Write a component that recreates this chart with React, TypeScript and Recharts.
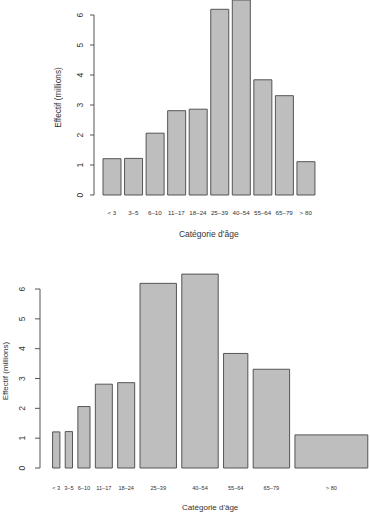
import { BarChart, Bar, XAxis, YAxis, ComposedChart, ReferenceArea, Line } from 'recharts';

const AGE_LABELS = ['< 3', '3–5', '6–10', '11–17', '18–24', '25–39', '40–54', '55–64', '65–79', '> 80'];
const EFFECTIFS = [1.21, 1.22, 2.06, 2.81, 2.86, 6.19, 6.5, 3.84, 3.31, 1.11];
// largeur des classes d'âge (années), sert de largeur de barre en bas
const AGE_SPANS = [3, 3, 5, 7, 7, 15, 15, 10, 15, 30];
const Y_TICKS = [0, 1, 2, 3, 4, 5, 6];

const FONT = '"Liberation Sans", Arial, Helvetica, sans-serif';
const INK = '#333';
const LINE = '#555';
const FILL = '#bebebe';

const topData = AGE_LABELS.map((age, i) => ({ age, effectif: EFFECTIFS[i] }));

// comme barplot(width = AGE_SPANS, space = 0.2) : écart = 0.2 * largeur moyenne
const gap = (0.2 * AGE_SPANS.reduce((a, b) => a + b, 0)) / AGE_SPANS.length;
let cursor = 0;
const bottomData = AGE_SPANS.map((span, i) => {
  const left = cursor + gap;
  cursor = left + span;
  return { age: AGE_LABELS[i], left, right: cursor, mid: left + span / 2, effectif: EFFECTIFS[i] };
});
const xMin = bottomData[0].left;
const xMax = cursor;
const xPad = (xMax - xMin) * 0.04;

// étiquettes de l'axe y parallèles à l'axe (style R)
const RotTick = (props: any) => {
  const { x, y, payload } = props;
  return (
    <text x={x} y={y} transform={`rotate(-90 ${x} ${y})`} textAnchor="middle" fontSize={8.5} fill={INK}>
      {payload.value}
    </text>
  );
};

export default function App() {
  return (
    <div style={{ position: 'absolute', left: 0, top: 0, width: 370, height: 512, overflow: 'hidden', fontFamily: FONT, background: '#fff' }}>
      {/* barres de largeur égale */}
      <div style={{ position: 'absolute', left: 0, top: 0 }}>
        <BarChart width={370} height={250} data={topData} margin={{ top: 0, right: 46.5, bottom: 0, left: 0 }}>
          <XAxis
            dataKey="age"
            padding={{ left: 7, right: 7 }}
            axisLine={false}
            tickLine={false}
            tickSize={0}
            tickMargin={16}
            interval={0}
            height={55}
            tick={{ fontSize: 6.2, fill: INK }}
            label={{ value: "Catégorie d'âge", position: 'insideBottom', offset: 13, fontSize: 8.5, fill: INK }}
          />
          <YAxis
            type="number"
            domain={[0, 6.5]}
            ticks={Y_TICKS}
            width={94}
            axisLine={{ stroke: LINE, strokeDasharray: '0 15 180 1000' }}
            tickLine={{ stroke: LINE }}
            tickSize={4}
            tickMargin={7}
            tick={<RotTick />}
            label={{ value: 'Effectif (millions)', angle: -90, position: 'insideLeft', offset: 58, fontSize: 8.3, fill: INK, style: { textAnchor: 'middle' } }}
          />
          <Bar dataKey="effectif" barSize={18} fill={FILL} stroke={LINE} strokeWidth={1} isAnimationActive={false} />
        </BarChart>
      </div>

      {/* barres proportionnelles à la largeur des classes */}
      <div style={{ position: 'absolute', left: 0, top: 250 }}>
        <ComposedChart width={381} height={262} data={bottomData} margin={{ top: 24.1, right: 0.6, bottom: 0, left: 0 }}>
          <XAxis
            type="number"
            dataKey="mid"
            domain={[xMin - xPad, xMax + xPad]}
            ticks={bottomData.map((d) => d.mid)}
            tickFormatter={(v: number) => bottomData.find((d) => Math.abs(d.mid - v) < 1e-6)?.age ?? ''}
            interval={0}
            axisLine={false}
            tickLine={false}
            tickSize={0}
            tickMargin={18}
            height={44}
            tick={{ fontSize: 5.6, fill: INK }}
            label={{ value: "Catégorie d'âge", position: 'insideBottom', offset: 2, fontSize: 8, fill: INK }}
          />
          <YAxis
            type="number"
            domain={[0, 6.5]}
            ticks={Y_TICKS}
            width={40}
            axisLine={{ stroke: LINE, strokeDasharray: '0 14.9 179 1000' }}
            tickLine={{ stroke: LINE }}
            tickSize={5}
            tickMargin={10}
            tick={<RotTick />}
            label={{ value: 'Effectif (millions)', angle: -90, position: 'insideLeft', offset: 5, fontSize: 8, fill: INK, style: { textAnchor: 'middle' } }}
          />
          {bottomData.map((d) => (
            <ReferenceArea
              key={d.age}
              x1={d.left}
              x2={d.right}
              y1={0}
              y2={d.effectif}
              fill={FILL}
              fillOpacity={1}
              stroke={LINE}
              strokeWidth={1}
            />
          ))}
          {/* série invisible : relie l'axe y aux données */}
          <Line dataKey="effectif" stroke="none" dot={false} activeDot={false} isAnimationActive={false} />
        </ComposedChart>
      </div>
    </div>
  );
}
